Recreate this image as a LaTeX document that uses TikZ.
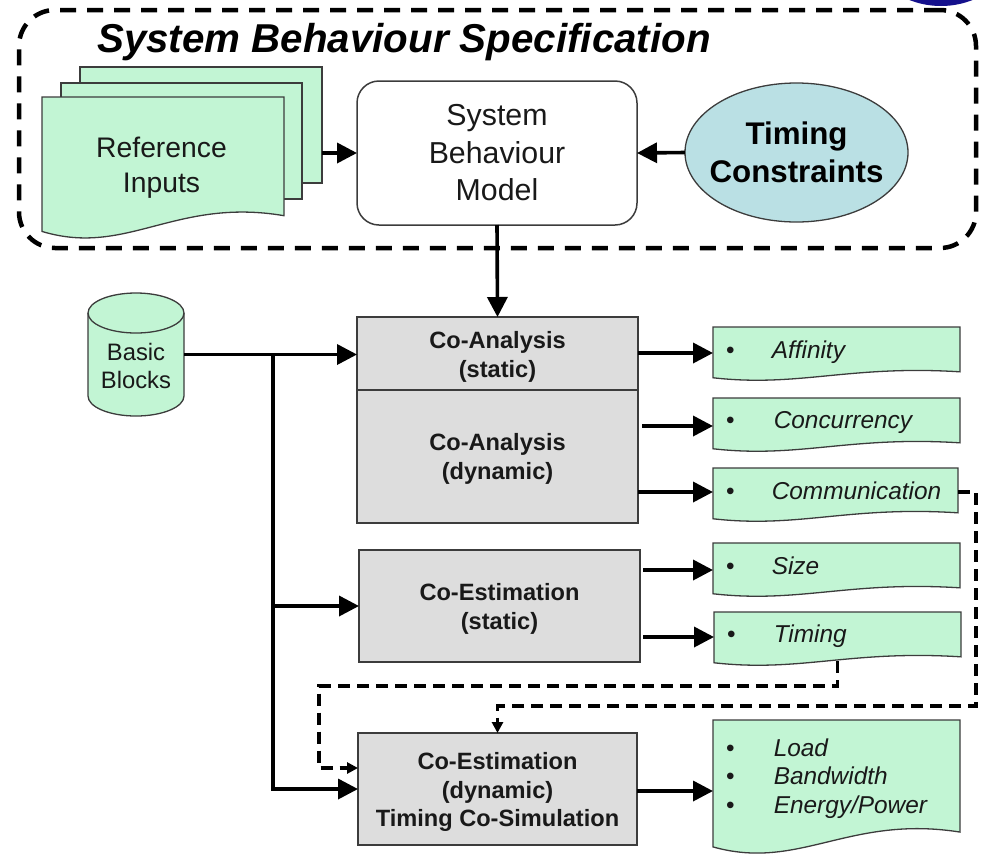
\documentclass[tikz,border=0pt]{standalone}
\usepackage{fontspec}
\setmainfont{Liberation Sans}
\usetikzlibrary{arrows.meta,calc,shapes.geometric}

\definecolor{docgreen}{RGB}{194,245,212}
\definecolor{procgray}{RGB}{221,221,221}
\definecolor{tcblue}{RGB}{186,224,228}
\definecolor{edgegray}{RGB}{60,60,60}
\definecolor{ink}{RGB}{25,25,25}
\definecolor{navyblob}{RGB}{20,16,140}

\newcommand\titlefont{\fontsize{40.3}{41}\selectfont\bfseries\itshape}
\newcommand\modelfont{\fontsize{30.3}{37.5}\selectfont}
\newcommand\reffont{\fontsize{28.3}{35}\selectfont}
\newcommand\tcfont{\fontsize{31.3}{38}\selectfont\bfseries}
\newcommand\procfont{\fontsize{23.6}{28.8}\selectfont\bfseries}
\newcommand\bbfont{\fontsize{23.8}{28}\selectfont}
\newcommand\outfont{\fontsize{24.4}{28.5}\selectfont}

\tikzset{
  area/.style={inner sep=0pt, outer sep=0pt},
  frame/.style={area, draw=black, line width=4.5pt, dash pattern=on 16pt off 11pt,
    rounded corners=36pt},
  docline/.style={draw=edgegray, line width=1.3pt, fill=docgreen},
  proc/.style={area, draw=edgegray, line width=1.5pt, fill=procgray},
  modelbox/.style={area, draw=edgegray, line width=1.5pt, fill=white, rounded corners=22pt},
  tcbox/.style={area, ellipse, draw=edgegray, line width=1.3pt, fill=tcblue},
  label/.style={inner sep=0pt, align=center, text=ink},
  outtext/.style={inner sep=0pt, anchor=west, align=left, font=\outfont, text=ink},
  flow/.style={line width=3.6pt, -{Triangle[length=20pt,width=20pt]}},
  feed/.style={line width=3.1pt, dash pattern=on 12pt off 7pt, -{Triangle[length=11pt,width=11pt]}},
}

% document shape with a wavy lower edge, drawn over the bounds of a node
\newcommand\wavedoc[1]{%
  \path[docline] (#1.north west) -- (#1.north east)
    -- ($(#1.south east)!0.17!(#1.north east)$)
    .. controls ($(#1.south west)!0.55!(#1.south east) + 0.30*(#1.north west) - 0.30*(#1.south west)$)
    and ($(#1.south west)!0.35!(#1.south east) - 0.12*(#1.north west) + 0.12*(#1.south west)$)
    .. ($(#1.south west)!0.06!(#1.north west)$) -- cycle;}

\begin{document}
\begin{tikzpicture}[x=1pt,y=-1pt]
\useasboundingbox (0,0) rectangle (981,855);

% corner badge
\begin{scope}
  \clip (0,0) rectangle (981,855);
  \fill[navyblob] (941,-80) circle[radius=86pt];
\end{scope}

% specification frame
\node[frame, minimum width=957pt, minimum height=238pt] (spec) at (497.5,129) {};
\node[anchor=base west, inner sep=0pt, font=\titlefont] (title) at (97,52)
  {System Behaviour Specification};

% reference inputs (stack of documents)
\node[area, minimum width=242pt, minimum height=116pt] (pg3) at (201,125) {};
\node[area, minimum width=241pt, minimum height=116pt] (pg2) at (181.5,141) {};
\node[area, minimum width=242pt, minimum height=143pt] (ref) at (163,168.5) {};
\path[docline] (pg3.north west) rectangle (pg3.south east);
\path[docline] (pg2.north west) rectangle (pg2.south east);
\wavedoc{ref}
\node[label, font=\reffont] (refT) at ([xshift=-1.5pt,yshift=0.5pt]ref.center) {Reference\\Inputs};

% behaviour model and timing constraints
\node[modelbox, minimum width=280pt, minimum height=144pt] (model) at (497,153) {};
\node[label, font=\modelfont] (modelT) at (model.center) {System\\Behaviour\\Model};
\node[tcbox, minimum width=223pt, minimum height=139pt] (tc) at (796.5,152.5) {};
\node[label, font=\tcfont, text=black] (tcT) at (tc.center) {Timing\\Constraints};

\draw[flow] (pg3.east |- model.west) -- (model.west);
\draw[flow] (tc.west) -- (model.east);

% basic blocks store
\node[area, minimum width=96pt, minimum height=123pt] (bb) at (136,354.5) {};
\path[docline] ([yshift=-20pt]bb.north west) -- ([yshift=20pt]bb.south west)
  arc[start angle=180, end angle=360, x radius=48pt, y radius=20pt]
  -- ([yshift=-20pt]bb.north east)
  arc[start angle=0, end angle=180, x radius=48pt, y radius=20pt] -- cycle;
\draw[draw=edgegray, line width=1.3pt] ([yshift=-20pt]bb.north west)
  arc[start angle=180, end angle=360, x radius=48pt, y radius=20pt];
\node[label, font=\bbfont] (bbT) at ([yshift=-11.5pt]bb.center) {Basic\\Blocks};

% processing steps
\node[proc, minimum width=281pt, minimum height=73pt] (coAs) at (497.5,353.5) {};
\node[proc, minimum width=281pt, minimum height=133pt] (coAd) at (497.5,456.5) {};
\node[proc, minimum width=281pt, minimum height=112pt] (ceS) at (499.5,606) {};
\node[proc, minimum width=279pt, minimum height=112pt] (ceD) at (497.5,789) {};
\node[label, font=\procfont] (coAsT) at ([yshift=-3pt]coAs.center) {Co-Analysis\\(static)};
\node[label, font=\procfont] (coAdT) at ([yshift=-2.5pt]coAd.center) {Co-Analysis\\(dynamic)};
\node[label, font=\procfont] (ceST) at ([yshift=-3pt]ceS.center) {Co-Estimation\\(static)};
\node[label, font=\procfont] (ceDT) at ([yshift=-3pt]ceD.center)
  {Co-Estimation\\(dynamic)\\Timing Co-Simulation};

\draw[flow] (model.south) -- (coAs.north);

% basic blocks feed all steps
\coordinate (split) at (273,354.5);
\draw[flow] (bb.east) -- (bb.east -| coAs.west);
\draw[flow] (split) |- (ceD.west);
\draw[flow] (split |- ceS.west) -- (ceS.west);

% result documents
\node[area, minimum width=247pt, minimum height=54pt] (aff) at (836.5,354) {};
\node[area, minimum width=247pt, minimum height=54pt] (conc) at (836.5,425) {};
\node[area, minimum width=245pt, minimum height=54pt] (comm) at (835.5,495) {};
\node[area, minimum width=247pt, minimum height=54pt] (size) at (836.5,570) {};
\node[area, minimum width=247pt, minimum height=54pt] (tim) at (837.5,639) {};
\node[area, minimum width=247pt, minimum height=135pt] (load) at (836.5,787.5) {};
\wavedoc{aff}
\wavedoc{conc}
\wavedoc{comm}
\wavedoc{size}
\wavedoc{tim}
\wavedoc{load}

\node[outtext] (affT) at ([xshift=13pt,yshift=1.5pt]aff.west) {•\hspace{37pt}\textit{Affinity}};
\node[outtext] (concT) at ([xshift=13pt,yshift=2.5pt]conc.west) {•\hspace{39pt}\textit{Concurrency}};
\node[outtext] (commT) at ([xshift=13pt,yshift=4pt]comm.west) {•\hspace{37pt}\textit{Communication}};
\node[outtext] (sizeT) at ([xshift=13pt,yshift=4pt]size.west) {•\hspace{37pt}\textit{Size}};
\node[outtext] (timT) at ([xshift=13pt,yshift=2.5pt]tim.west) {•\hspace{38pt}\textit{Timing}};
\node[outtext] (loadT) at ([xshift=13pt,yshift=9pt]load.west)
  {•\hspace{39pt}\textit{Load}\\•\hspace{39pt}\textit{Bandwidth}\\•\hspace{39pt}\textit{Energy/Power}};

% step outputs
\coordinate (affIn) at ([yshift=1pt]aff.west);
\coordinate (concIn) at ([yshift=-1pt]conc.west);
\coordinate (commIn) at ([yshift=3pt]comm.west);
\coordinate (sizeIn) at (size.west);
\coordinate (timIn) at ([yshift=2pt]tim.west);
\coordinate (loadIn) at ([yshift=-3.5pt]load.west);
\draw[flow] (coAs.east |- affIn) -- (affIn);
\draw[flow] ($(coAd.east |- concIn)+(4,0)$) -- (concIn);
\draw[flow] (coAd.east |- commIn) -- (commIn);
\draw[flow] ($(ceS.east |- sizeIn)+(3,0)$) -- (sizeIn);
\draw[flow] ($(ceS.east |- timIn)+(3,0)$) -- (timIn);
\draw[flow] (ceD.east |- loadIn) -- (loadIn);

% feedback of static results into the dynamic estimation
\coordinate (loopA) at (319,686);
\coordinate (loopB) at (976,706);
\draw[feed] ([yshift=5pt]tim.south) |- (loopA) |- ([yshift=21pt]ceD.west);
\draw[feed] ([yshift=3pt]comm.east) -| (loopB) -| (ceD.north);
\end{tikzpicture}
\end{document}
